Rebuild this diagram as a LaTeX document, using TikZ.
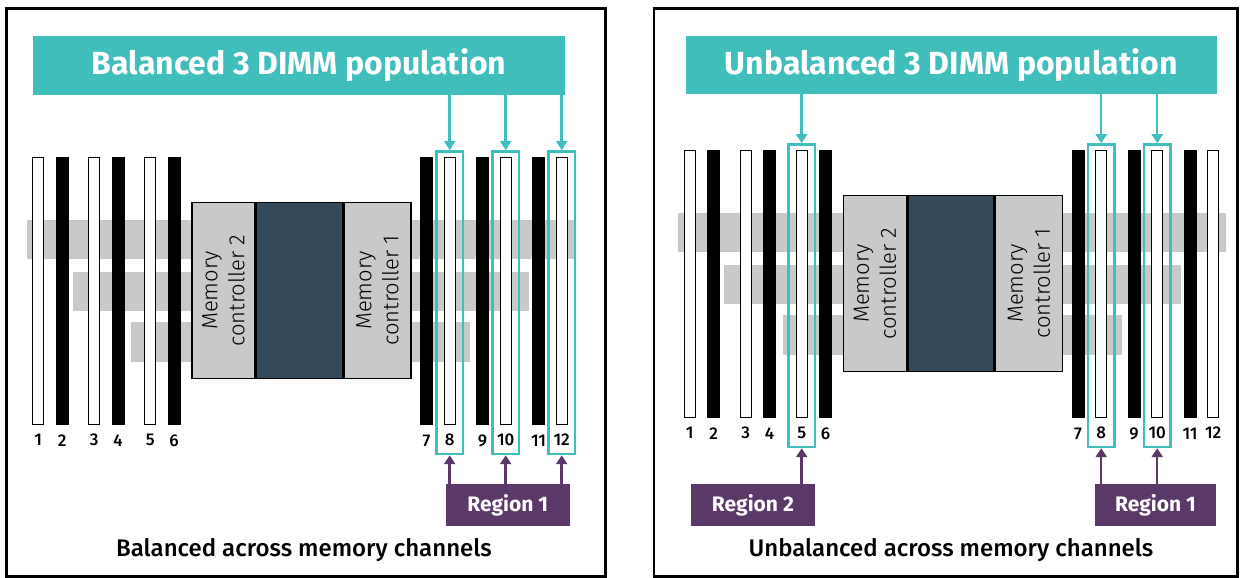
\documentclass[tikz,border=0pt]{standalone}
\usepackage{fontspec}
\setmainfont{Fira Sans}
\newfontfamily\medfont{Fira Sans Medium}
\newfontfamily\lightfont{Fira Sans Light}
\usetikzlibrary{calc,positioning,arrows.meta}
\definecolor{dimmteal}{HTML}{40BEBC}
\definecolor{regionpurple}{HTML}{5A3968}
\definecolor{cpuslate}{HTML}{344A5A}
\definecolor{chgray}{HTML}{C8CACA}

\begin{document}
\begin{tikzpicture}[x=1pt,y=-1pt,
    panelframe/.style={draw=black,line width=2.7pt},
    headbox/.style={fill=dimmteal,text=white,inner sep=0pt,minimum height=58pt,minimum width=532pt,font=\bfseries\fontsize{32}{34}\selectfont},
    chband/.style={fill=chgray},
    wdimm/.style={draw=black,fill=white,line width=1.4pt,inner sep=0pt,minimum width=11pt,minimum height=266.5pt,anchor=north west},
    bdimm/.style={fill=black,inner sep=0pt,minimum width=12.8pt,minimum height=268pt,anchor=north west},
    slotnum/.style={inner sep=0pt,font=\medfont\fontsize{17}{17}\selectfont},
    mcpart/.style={draw=black,line width=1.5pt,fill=chgray,inner sep=0pt,rotate=90,minimum width=176pt,align=center,font=\lightfont\fontsize{22}{27}\selectfont},
    cpu/.style={draw=black,line width=1.5pt,fill=cpuslate,inner sep=0pt,minimum width=86pt,minimum height=176pt},
    selbox/.style={draw=dimmteal,line width=2.5pt,inner sep=0pt,minimum width=26.5pt,minimum height=302.5pt,anchor=north},
    regbox/.style={fill=regionpurple,text=white,inner sep=0pt,minimum width=123.5pt,minimum height=42pt,font=\bfseries\fontsize{21}{23}\selectfont},
    captext/.style={inner sep=0pt,font=\medfont\fontsize{24}{26}\selectfont},
    selarrow/.style={draw=dimmteal,line width=2.5pt,-{Triangle[length=9pt,width=11pt]}},
    regarrow/.style={draw=regionpurple,line width=2.5pt,-{Triangle[length=9pt,width=11pt]}}
  ]
  \useasboundingbox (0,0) rectangle (1240,578);

  \draw[panelframe] (6.5,8.5) rectangle (605.5,576.5);
  \draw[panelframe] (654,8.5) rectangle (1237.5,576.5);

  % same board twice, the right one a bit higher
  \foreach \side/\dx/\dy in {L/0/0,R/651.5/-7}{
    \begin{scope}[shift={(\dx,\dy)}]
      \fill[chband] (26.6,220) rectangle (574,259);
      \fill[chband] (72.6,272) rectangle (529,311);
      \fill[chband] (131,322) rectangle (470,362);
      \foreach \i/\kind in {1/wdimm,2/bdimm,3/wdimm,4/bdimm,5/wdimm,6/bdimm,7/bdimm,8/wdimm,9/bdimm,10/wdimm,11/bdimm,12/wdimm}{
        \pgfmathtruncatemacro{\k}{mod(\i-1,6)}
        \pgfmathsetmacro{\xs}{(\i<7 ? 32 : 420)+56*div(\k,2)+23.5*mod(\k,2)}
        \node[\kind] (\side\i) at (\xs,157) {};
        \node[slotnum] (num\side\i) at ($(\side\i.south)+(0,15)$) {\i};
      }
      \node[mcpart,minimum height=63pt] (\side mc2) at (223.5,290.5) {Memory\\controller 2};
      \node[cpu,anchor=west] (\side cpu) at (\side mc2.south) {};
      \node[mcpart,minimum height=67pt,anchor=north] (\side mc1) at (\side cpu.east) {Memory\\controller 1};
    \end{scope}
  }

  % balanced
  \node[headbox] (headL) at (299,65.5) {Balanced 3 DIMM population};
  \node[regbox] (regL1) at (507.75,505) {Region 1};
  \foreach \i in {8,10,12}{
    \node[selbox] (selL\i) at ($(L\i.north)+(0,-6.8)$) {};
    \draw[selarrow] (headL.south -| selL\i.north) -- (selL\i.north);
    \draw[regarrow] (regL1.north -| selL\i.south) -- (selL\i.south);
  }
  \node[captext] (capL) at (304,550) {Balanced across memory channels};

  % unbalanced
  \node[headbox,minimum width=531.5pt] (headR) at (951.25,65) {Unbalanced 3 DIMM population};
  \node[regbox] (regR2) at (752.9,505) {Region 2};
  \node[regbox,minimum width=121pt] (regR1) at (1155.5,505) {Region 1};
  \foreach \i in {5,8,10}{
    \node[selbox] (selR\i) at ($(R\i.north)+(0,-6.8)$) {};
    \draw[selarrow] (headR.south -| selR\i.north) -- (selR\i.north);
  }
  \draw[regarrow] (regR2.north -| selR5.south) -- (selR5.south);
  \draw[regarrow] (regR1.north -| selR8.south) -- (selR8.south);
  \draw[regarrow] (regR1.north -| selR10.south) -- (selR10.south);
  \node[captext] (capR) at (951,550) {Unbalanced across memory channels};
\end{tikzpicture}
\end{document}
